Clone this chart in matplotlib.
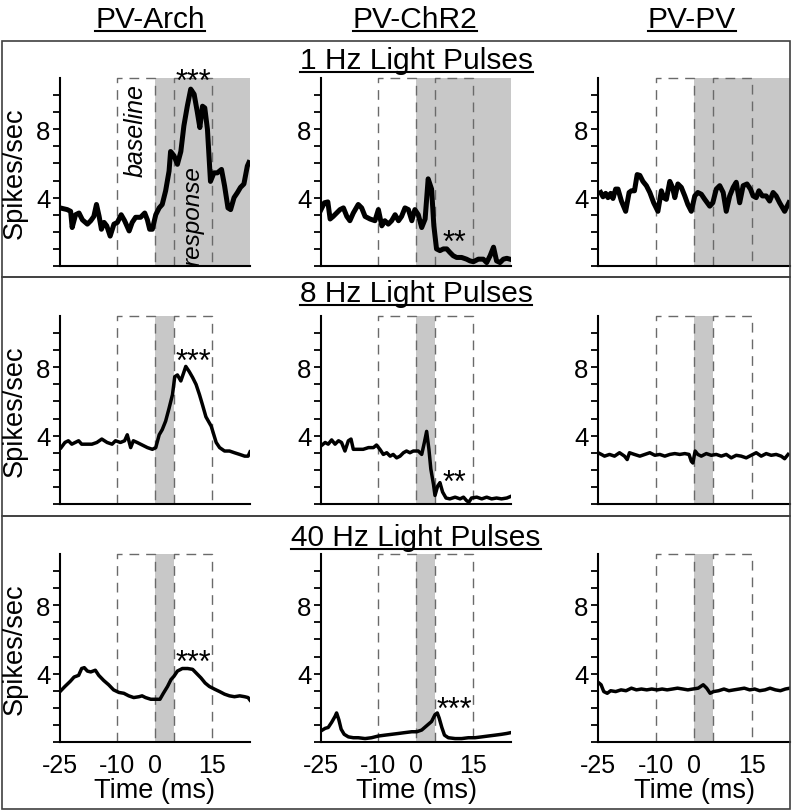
import numpy as np
import matplotlib.pyplot as plt
from matplotlib.lines import Line2D
from matplotlib.patches import Rectangle

plt.rcParams['font.family'] = ['Liberation Sans', 'DejaVu Sans']
plt.rcParams['axes.unicode_minus'] = False

groups = ["PV-Arch", "PV-ChR2", "PV-PV"]
freqs = ["1 Hz Light Pulses", "8 Hz Light Pulses", "40 Hz Light Pulses"]
light_end = [25, 5, 5]          # shaded light period, ms after onset
baseline_win = [-10, 0]
response_win = [5, 15]
xticks = [-25, -10, 0, 15]
yticks = [4, 8]

# ---- 1 Hz ----
arch_1hz_t = [-25.0, -23.1, -22.2, -21.8, -20.9, -20.0, -19.1, -17.8, -16.9, -16.1, -15.4, -14.7,
              -14.1, -13.4, -12.7, -11.8, -10.8, -9.9, -8.9, -8.0, -6.8, -6.0, -5.1, -3.8, -2.7,
              -2.0, -1.4, -0.7, 0.2, 1.1, 1.9, 2.8, 3.7, 4.1, 5.0, 5.9, 6.8, 7.6, 8.5, 9.4, 10.3,
              11.1, 11.8, 12.5, 13.1, 13.8, 14.6, 15.5, 16.4, 17.5, 18.3, 19.2, 19.9, 20.8, 21.7,
              22.5, 23.4, 24.3, 24.7]
arch_1hz_y = [3.4, 3.3, 3.2, 2.25, 3.0, 3.1, 2.7, 2.45, 2.65, 2.9, 3.6, 2.9, 2.15, 2.55, 2.35,
              1.75, 2.45, 2.55, 3.0, 2.65, 2.05, 2.55, 2.85, 2.85, 3.1, 2.7, 2.15, 2.15, 3.0, 3.4,
              3.6, 4.4, 5.55, 6.7, 6.45, 5.95, 6.7, 8.2, 9.35, 10.35, 10.05, 9.05, 8.1, 9.35, 9.25,
              8.0, 4.95, 5.45, 5.45, 5.65, 4.7, 3.4, 3.3, 4.0, 4.3, 4.6, 4.8, 5.85, 6.05]

chr2_1hz_t = [-25.0, -24.1, -23.2, -22.6, -21.8, -20.9, -20.0, -19.1, -18.2, -17.4, -16.5, -15.2,
              -14.3, -13.4, -12.1, -10.8, -9.9, -9.0, -8.2, -7.3, -6.4, -5.5, -4.6, -3.8, -2.9,
              -2.0, -1.1, -0.3, 0.6, 1.5, 2.4, 3.2, 4.1, 4.7, 5.4, 6.3, 7.2, 8.1, 8.9, 9.8, 10.7,
              12.0, 13.3, 14.2, 15.1, 16.4, 17.7, 18.6, 19.5, 20.4, 21.2, 22.1, 23.0, 23.9, 24.7]
chr2_1hz_y = [3.3, 3.7, 3.75, 2.75, 2.9, 3.1, 3.3, 3.4, 2.9, 2.65, 3.1, 3.6, 3.4, 2.9, 2.75, 2.65,
              3.3, 2.35, 2.65, 2.45, 2.65, 3.0, 2.65, 2.9, 3.4, 3.3, 2.65, 3.3, 3.0, 2.25, 2.75,
              5.1, 4.5, 2.35, 1.0, 0.9, 1.0, 1.0, 0.8, 0.6, 0.5, 0.5, 0.4, 0.3, 0.25, 0.4, 0.4,
              0.2, 0.6, 1.1, 0.3, 0.2, 0.4, 0.45, 0.4]

pvpv_1hz_t = [-24.3, -23.7, -23.0, -22.4, -21.7, -21.1, -20.4, -19.8, -18.9, -17.8, -16.9, -16.3,
              -15.5, -14.8, -14.1, -13.3, -12.4, -11.5, -10.5, -9.4, -8.5, -7.9, -7.2, -6.3, -5.6,
              -5.0, -4.2, -3.3, -2.4, -1.6, -0.7, 0.2, 1.0, 1.9, 2.8, 4.1, 4.9, 5.8, 6.7, 7.6, 8.4,
              9.3, 10.2, 11.0, 11.9, 12.8, 13.8, 14.7, 15.4, 16.2, 16.9, 17.8, 18.8, 19.7, 20.6,
              21.4, 22.3, 23.6, 24.7]
pvpv_1hz_y = [4.3, 4.05, 4.25, 4.0, 4.25, 3.95, 4.5, 4.5, 3.8, 3.2, 4.3, 4.4, 4.4, 5.35, 5.3, 4.95,
              4.7, 4.3, 3.7, 3.2, 4.4, 4.0, 3.9, 4.95, 4.6, 4.0, 4.8, 4.6, 4.1, 3.6, 3.2, 4.1, 4.3,
              4.2, 3.9, 3.5, 3.7, 4.5, 4.7, 4.3, 3.2, 4.1, 4.6, 4.9, 3.7, 4.7, 4.8, 4.5, 4.1, 4.0,
              4.4, 4.1, 4.1, 3.8, 4.3, 4.1, 3.7, 3.2, 3.7]

# ---- 8 Hz ----
arch_8hz_t = [-24.7, -23.7, -22.8, -21.9, -21.0, -20.1, -19.3, -17.9, -16.6, -15.3, -14.0, -12.6,
              -11.3, -10.4, -9.1, -8.0, -7.3, -6.4, -5.7, -4.7, -3.8, -2.9, -2.0, -0.7, 0.2, 1.1,
              1.9, 2.8, 3.7, 4.6, 5.2, 5.9, 6.8, 7.5, 8.1, 9.0, 9.9, 10.8, 11.7, 12.5, 13.4, 14.8,
              16.1, 17.0, 18.3, 19.6, 20.9, 22.3, 23.6, 24.5, 25.0]
arch_8hz_y = [3.3, 3.6, 3.7, 3.5, 3.6, 3.7, 3.5, 3.5, 3.5, 3.6, 3.8, 3.6, 3.5, 3.7, 3.6, 3.7, 4.05,
              3.3, 3.7, 3.6, 3.5, 3.4, 3.3, 3.2, 3.3, 4.05, 4.35, 4.85, 5.6, 6.4, 7.45, 7.55, 7.2,
              7.65, 8.05, 7.75, 7.4, 7.0, 6.4, 5.8, 5.1, 4.55, 3.6, 3.3, 3.1, 3.1, 3.0, 2.9, 2.8,
              2.8, 3.05]

chr2_8hz_t = [-25.0, -23.9, -23.1, -22.2, -21.3, -20.4, -19.6, -18.7, -17.8, -17.1, -16.5, -15.2,
              -13.9, -12.5, -11.2, -10.4, -9.5, -8.6, -7.7, -6.8, -6.0, -5.1, -4.2, -3.3, -2.5,
              -1.6, -0.7, 0.6, 1.5, 2.2, 2.8, 3.4, 3.9, 4.6, 5.0, 5.7, 6.3, 7.0, 7.9, 8.9, 10.3,
              11.6, 12.5, 13.3, 13.9, 14.6, 16.0, 17.3, 18.6, 19.9, 21.2, 22.5, 23.9, 25.0]
chr2_8hz_y = [3.4, 3.6, 3.5, 3.75, 3.5, 3.7, 3.6, 3.1, 3.7, 3.8, 3.2, 3.2, 3.2, 3.3, 3.3, 3.45, 3.2,
              2.9, 3.0, 2.8, 2.9, 2.7, 2.8, 3.0, 3.1, 3.0, 3.1, 3.1, 2.9, 3.6, 4.25, 3.2, 2.05,
              1.15, 0.5, 1.05, 1.25, 0.7, 0.35, 0.3, 0.4, 0.3, 0.4, 0.2, 0.1, 0.35, 0.4, 0.3, 0.4,
              0.3, 0.35, 0.3, 0.35, 0.45]

pvpv_8hz_t = [-25.0, -24.1, -23.3, -22.0, -20.7, -19.4, -18.1, -17.4, -16.8, -15.5, -14.1, -12.8,
              -11.5, -10.2, -8.9, -7.6, -6.3, -5.0, -3.7, -2.4, -1.3, -0.7, -0.3, 0.3, 1.0, 1.9,
              3.2, 4.5, 5.8, 7.1, 8.4, 9.7, 11.0, 12.3, 13.6, 14.9, 16.2, 17.5, 18.8, 20.1, 21.4,
              22.7, 23.6, 24.5]
pvpv_8hz_y = [3.0, 2.9, 2.8, 2.9, 2.8, 3.0, 2.8, 2.6, 3.0, 2.9, 2.8, 2.9, 3.0, 2.85, 2.9, 2.8, 2.9,
              2.95, 2.9, 2.95, 2.9, 2.5, 2.4, 3.1, 2.9, 2.8, 2.95, 2.85, 2.9, 2.8, 2.9, 2.7, 2.85,
              2.8, 2.7, 2.85, 3.0, 2.8, 2.95, 2.85, 2.9, 2.8, 2.65, 2.9]

# ---- 40 Hz ----
arch_40hz_t = [-25.0, -23.7, -22.3, -21.3, -20.1, -19.3, -18.6, -17.8, -16.9, -15.7, -14.8, -13.5,
               -12.2, -10.9, -9.5, -8.2, -6.9, -5.6, -4.2, -3.4, -2.5, -1.1, 0.2, 1.3, 2.2, 3.3,
               4.2, 5.0, 5.9, 7.2, 8.6, 9.9, 11.0, 12.1, 13.2, 14.3, 15.6, 17.0, 18.3, 19.6, 20.9,
               22.3, 23.6, 24.5, 25.0]
arch_40hz_y = [2.95, 3.25, 3.55, 3.8, 3.9, 4.3, 4.35, 4.15, 4.1, 4.2, 3.9, 3.6, 3.35, 3.05, 2.9,
               2.85, 2.7, 2.6, 2.65, 2.7, 2.6, 2.5, 2.5, 2.5, 2.85, 3.25, 3.65, 3.85, 4.15, 4.3,
               4.3, 4.25, 4.0, 3.75, 3.45, 3.25, 3.1, 2.95, 2.8, 2.7, 2.65, 2.7, 2.65, 2.6, 2.45]

chr2_40hz_t = [-25.0, -23.9, -23.1, -22.2, -21.3, -20.9, -20.3, -19.7, -18.9, -17.8, -16.5, -15.2,
               -13.4, -11.7, -9.9, -8.2, -6.4, -4.6, -2.9, -1.1, 0.2, 1.5, 2.8, 4.1, 5.0, 5.6, 6.1,
               6.8, 7.5, 8.5, 10.3, 12.0, 13.8, 15.5, 17.3, 19.0, 20.8, 22.5, 23.9, 25.0]
chr2_40hz_y = [0.65, 0.8, 0.85, 1.15, 1.5, 1.7, 1.3, 0.75, 0.45, 0.3, 0.25, 0.25, 0.2, 0.25, 0.35,
               0.4, 0.45, 0.5, 0.55, 0.6, 0.6, 0.7, 0.95, 1.2, 1.6, 1.7, 1.4, 0.85, 0.4, 0.25, 0.2,
               0.2, 0.25, 0.25, 0.3, 0.35, 0.4, 0.45, 0.5, 0.55]

pvpv_40hz_t = [-25.0, -24.2, -23.5, -22.6, -21.7, -20.4, -19.0, -17.7, -16.3, -15.0, -13.7, -12.3,
               -11.0, -9.6, -8.3, -7.0, -5.6, -4.3, -2.9, -1.6, -0.3, 1.1, 2.4, 3.3, 4.2, 5.1, 6.4,
               7.8, 9.1, 10.4, 11.8, 13.1, 14.5, 15.8, 17.1, 18.5, 19.8, 21.2, 22.5, 23.8, 25.0]
pvpv_40hz_y = [3.5, 3.35, 2.95, 2.85, 3.0, 2.95, 3.05, 3.0, 3.15, 3.05, 3.1, 3.05, 3.1, 3.05, 3.1,
               3.05, 3.1, 3.15, 3.1, 3.05, 3.1, 3.15, 3.35, 3.15, 2.85, 2.95, 3.0, 3.1, 3.0, 3.05,
               3.1, 3.15, 3.05, 3.1, 3.0, 3.05, 3.15, 3.05, 3.0, 3.1, 3.15]

traces = [[(arch_1hz_t, arch_1hz_y), (chr2_1hz_t, chr2_1hz_y), (pvpv_1hz_t, pvpv_1hz_y)],
          [(arch_8hz_t, arch_8hz_y), (chr2_8hz_t, chr2_8hz_y), (pvpv_8hz_t, pvpv_8hz_y)],
          [(arch_40hz_t, arch_40hz_y), (chr2_40hz_t, chr2_40hz_y), (pvpv_40hz_t, pvpv_40hz_y)]]

# significance marks: (row, col, text, x, y of glyph centre)
stars = [(0, 0, "***", 10, 11.3), (1, 0, "***", 10, 8.85), (2, 0, "***", 10, 5.15),
         (0, 1, "**", 10, 1.9), (1, 1, "**", 10, 1.8), (2, 1, "***", 10, 2.4)]

W, H = 796, 812
fig = plt.figure(figsize=(W / 100, H / 100), dpi=100)


def fx(px):
    return px / W


def fy(py):
    return 1 - py / H


col_left = [60, 321, 598]
col_width = [190, 190, 192]
row_bottom = [267, 505, 743]
ax_height = 188
row_box = [42, 278, 517, 810]
title_base = [69, 302, 546]

# row boxes
for r in range(3):
    fig.patches.append(Rectangle((fx(2), fy(row_box[r + 1])), fx(788), (row_box[r + 1] - row_box[r]) / H,
                                 transform=fig.transFigure, fill=False, edgecolor='#404040', lw=1.2))

axes = [[None] * 3 for _ in range(3)]
for r in range(3):
    for c in range(3):
        ax = fig.add_axes([fx(col_left[c]), fy(row_bottom[r]), fx(col_width[c]), ax_height / H])
        axes[r][c] = ax
        ax.set_xlim(-25, 25)
        ax.set_ylim(0, 11)
        ax.patch.set_alpha(0)
        for s in ['top', 'right']:
            ax.spines[s].set_visible(False)
        for s in ['left', 'bottom']:
            ax.spines[s].set_linewidth(1.5)
        ax.set_yticks(yticks)
        ax.set_yticks(range(0, 11), minor=True)
        ax.tick_params(axis='y', which='both', length=5, width=1.3, direction='out', labelsize=18.5, pad=2)
        ax.set_xticks(xticks)
        ax.tick_params(axis='x', length=0, labelsize=18, pad=8)
        if r < 2:
            ax.set_xticklabels([])
        else:
            ax.set_xlabel("Time (ms)", fontsize=19.5, labelpad=0)

        ax.axvspan(0, light_end[r], color='#c8c8c8', lw=0, zorder=1)
        for win in (baseline_win, response_win):
            ax.plot([win[0], win[0], win[1], win[1]], [0, 11, 11, 0], color='#6a6a6a', lw=1.0,
                    dashes=(7, 5), zorder=2, clip_on=False)
        t, y = traces[r][c]
        ax.plot(t, y, color='black', lw=3.6 if r == 0 else 2.5, solid_joinstyle='round', zorder=3)

    fig.text(fx(15), fy(row_bottom[r] - ax_height / 2), "Spikes/sec", rotation=90, fontsize=19.5,
             ha='center', va='center')

for r, c, s, x, y in stars:
    axes[r][c].annotate(s, (x, y), xytext=(0, -12.5), textcoords='offset points', ha='center',
                        va='baseline', fontsize=22, annotation_clip=False)

ax0 = axes[0][0]
ax0.text(-5, 8.0, "baseline", rotation=90, style='italic', fontsize=18, ha='center', va='center')
ax0.text(10, 3.0, "response", rotation=90, style='italic', fontsize=17.5, ha='center', va='center')

# headers and row titles, underlined
header_x = [150, 415, 692]
labels = [(g, fx(x), fy(28)) for g, x in zip(groups, header_x)]
labels += [(f, fx(416), fy(b)) for f, b in zip(freqs, title_base)]
texts = [fig.text(x, y, s, fontsize=21.5, ha='center', va='baseline') for s, x, y in labels]
fig.canvas.draw()
renderer = fig.canvas.get_renderer()
for txt, (s, x, y) in zip(texts, labels):
    bb = txt.get_window_extent(renderer)
    fig.lines.append(Line2D([bb.x0 / W, bb.x1 / W], [y - 3.5 / H, y - 3.5 / H],
                            transform=fig.transFigure, color='black', lw=1.5))

fig.savefig("out.png", dpi=100)
